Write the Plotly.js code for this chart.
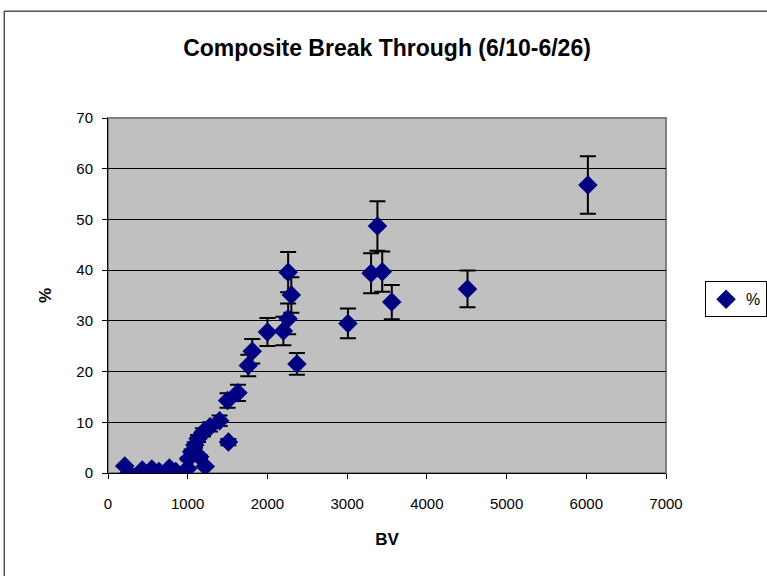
<!DOCTYPE html>
<html>
<head>
<meta charset="utf-8">
<script src="https://cdn.plot.ly/plotly-3.0.1.min.js"></script>
<style>html,body{margin:0;padding:0;background:#fff;}#chart{width:767px;height:576px;}</style>
</head>
<body>
<div id="chart"></div>
<script>
const bv = [210, 260, 430, 550, 640, 770, 850, 1000, 1010, 1050, 1090, 1130, 1150, 1190, 1220, 1280, 1400, 1500, 1510, 1630, 1760, 1810, 2000, 2200, 2260, 2260, 2300, 2370, 3010, 3300, 3380, 3440, 3560, 4510, 6020];
const pct = [1.4, 0, 0.6, 0.8, 0.3, 1.0, 0.3, 0.9, 2.8, 4.2, 5.5, 6.8, 3.2, 8.0, 1.3, 9.1, 10.3, 14.3, 6.1, 15.8, 21.2, 24.0, 27.8, 28.0, 30.4, 39.6, 35.1, 21.5, 29.5, 39.4, 48.7, 39.7, 33.7, 36.3, 56.8];
const errPercent = 10;
const xTicks = [0, 1000, 2000, 3000, 4000, 5000, 6000, 7000];
const yTicks = [0, 10, 20, 30, 40, 50, 60, 70];

const trace = {
  x: bv, y: pct, type: 'scatter', mode: 'markers', name: '%',
  marker: {symbol: 'diamond', size: 15, color: '#000080'},
  error_y: {type: 'percent', value: errPercent, visible: true, color: '#000000', thickness: 2, width: 8}
};

const layout = {
  width: 767, height: 576,
  paper_bgcolor: '#ffffff', plot_bgcolor: '#c0c0c0',
  margin: {l: 108, r: 101, t: 118, b: 103, autoexpand: false},
  font: {family: 'Liberation Sans, Arial, sans-serif', color: '#000', size: 15},
  title: {text: '<b>Composite Break Through (6/10-6/26)</b>', x: 0.5, xref: 'paper', y: 0.917, yanchor: 'middle', font: {size: 23}},
  showlegend: true,
  legend: {x: 1.07, xanchor: 'left', y: 0.54, yanchor: 'top', bgcolor: '#fff', bordercolor: '#000', borderwidth: 1, itemwidth: 30, font: {size: 16}},
  xaxis: {
    range: [0, 7000], tickvals: xTicks, ticktext: xTicks.map(String),
    showgrid: false, zeroline: false, showline: true, linecolor: '#000', linewidth: 1,
    ticks: 'outside', ticklen: 5, tickcolor: '#000', ticklabelstandoff: 12,
    title: {text: '<b>BV</b>', font: {size: 17}, standoff: 22}
  },
  yaxis: {
    range: [0, 70], tickvals: yTicks, ticktext: yTicks.map(String),
    showgrid: true, gridcolor: '#000', gridwidth: 1, zeroline: false,
    showline: true, linecolor: '#000', linewidth: 1,
    ticks: 'outside', ticklen: 5, tickcolor: '#000', ticklabelstandoff: 6,
    title: {text: '<b>%</b>', font: {size: 17}, standoff: 20}
  },
  shapes: [
    {type: 'rect', xref: 'paper', yref: 'paper', x0: 0, x1: 1, y0: 0, y1: 1, line: {color: '#808080', width: 2}, layer: 'below'},
    {type: 'rect', xref: 'paper', yref: 'paper', x0: -0.186, x1: 1.3, y0: -0.4, y1: 1.301, line: {color: '#000', width: 1}}
  ]
};

Plotly.newPlot('chart', [trace], layout, {displayModeBar: false, staticPlot: true});
</script>
</body>
</html>
